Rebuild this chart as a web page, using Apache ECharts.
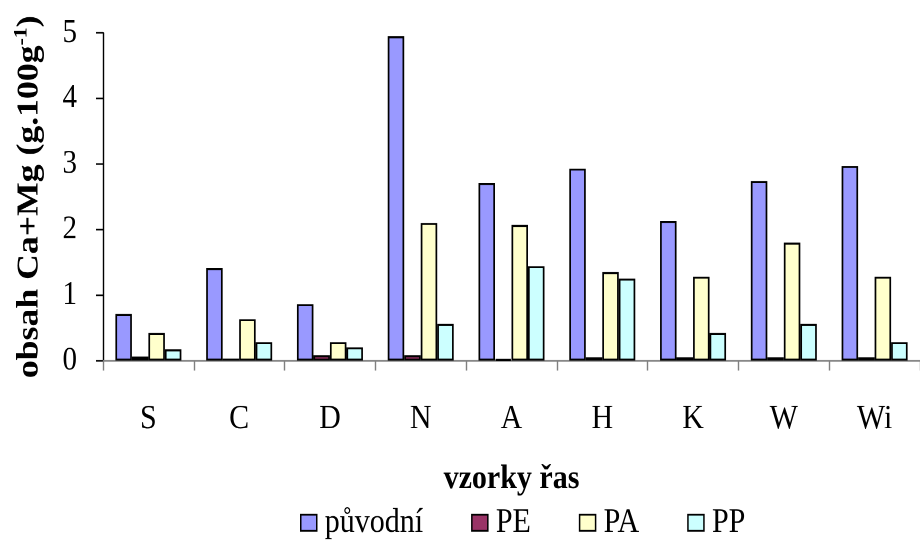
<!DOCTYPE html>
<html>
<head>
<meta charset="utf-8">
<script src="https://cdn.jsdelivr.net/npm/echarts@6/dist/echarts.min.js"></script>
<style>
  html, body { margin: 0; padding: 0; background: #fff; width: 920px; height: 541px; overflow: hidden; }
  #frame { position: relative; width: 920px; height: 541px; overflow: hidden; }
  /* the chart is laid out on a shorter canvas and stretched vertically,
     giving the tall-letter look of the printed figure */
  #chart { position: absolute; left: 0; top: 0; width: 920px; height: 470px; transform-origin: 0 0; }
</style>
</head>
<body>
<div id="frame"><div id="chart"></div></div>
<script>
// Ca+Mg content per sample, original vs. treated extracts
const categories = ['S', 'C', 'D', 'N', 'A', 'H', 'K', 'W', 'Wi'];
const seriesNames = ['původní', 'PE', 'PA', 'PP'];
const puvodni = [0.71, 1.41, 0.86, 4.95, 2.71, 2.93, 2.13, 2.74, 2.97];
const pe      = [0.06, 0.03, 0.08, 0.08, 0.02, 0.05, 0.05, 0.05, 0.05];
const pa      = [0.42, 0.63, 0.28, 2.10, 2.07, 1.35, 1.28, 1.80, 1.28];
const pp      = [0.17, 0.28, 0.20, 0.56, 1.44, 1.25, 0.42, 0.56, 0.28];
const yTicks  = [0, 1, 2, 3, 4, 5];

const colors = ['#9999FF', '#993366', '#FFFFCC', '#CCFFFF'];
const font = 'Liberation Serif';

// vertical stretch factor applied to the whole drawing
const STRETCH = 541 / 470;
const dom = document.getElementById('chart');
dom.style.transform = 'scaleY(' + STRETCH + ')';

const chart = echarts.init(dom, null, { renderer: 'canvas', devicePixelRatio: 2 });

const makeSeries = (name, data, color) => ({
  name: name,
  type: 'bar',
  data: data,
  barWidth: 16.5,
  barGap: '0%',
  itemStyle: { color: color, borderColor: '#000', borderWidth: 1.7 },
  emphasis: { disabled: true },
  animation: false
});

chart.setOption({
  animation: false,
  textStyle: { fontFamily: font, color: '#000' },
  grid: { left: 103, top: 33 / STRETCH, width: 827, height: (360.5 - 33) / STRETCH },
  legend: {
    data: seriesNames,
    left: 295,
    top: 517 / STRETCH - 15,
    itemWidth: 16,
    itemHeight: 14,
    itemGap: 48,
    icon: 'rect',
    itemStyle: { borderColor: '#000', borderWidth: 1.5 },
    textStyle: { fontFamily: font, fontSize: 30, color: '#000', padding: [0, 0, 0, 3] }
  },
  xAxis: {
    type: 'category',
    data: categories,
    name: 'vzorky řas',
    nameLocation: 'middle',
    nameGap: 88,
    nameTextStyle: { fontFamily: font, fontSize: 30, fontWeight: 'bold', color: '#000' },
    axisLine: { lineStyle: { color: '#808080', width: 1.4 } },
    axisTick: { show: true, alignWithLabel: false, length: 10 / STRETCH, lineStyle: { color: '#808080', width: 1.4 } },
    axisLabel: { margin: 36, fontFamily: font, fontSize: 30, color: '#000' }
  },
  yAxis: {
    type: 'value',
    min: yTicks[0],
    max: yTicks[yTicks.length - 1],
    interval: 1,
    name: '{a|obsah Ca+Mg (g.100g}{s|-1}{a|)}',
    nameLocation: 'middle',
    nameGap: 58,
    nameRotate: 90,
    nameTextStyle: {
      rich: {
        a: { fontFamily: font, fontSize: 31, fontWeight: 'bold', color: '#000', verticalAlign: 'bottom' },
        s: { fontFamily: font, fontSize: 19, fontWeight: 'bold', color: '#000', verticalAlign: 'top', padding: [0, 0, 14, 0] }
      }
    },
    splitLine: { show: false },
    axisLine: { show: true, lineStyle: { color: '#000', width: 1.4 } },
    axisTick: { show: true, length: 7, lineStyle: { color: '#000', width: 1.4 } },
    axisLabel: { margin: 26, fontFamily: font, fontSize: 29, color: '#000' }
  },
  series: [
    makeSeries(seriesNames[0], puvodni, colors[0]),
    makeSeries(seriesNames[1], pe, colors[1]),
    makeSeries(seriesNames[2], pa, colors[2]),
    makeSeries(seriesNames[3], pp, colors[3])
  ]
});
</script>
</body>
</html>
